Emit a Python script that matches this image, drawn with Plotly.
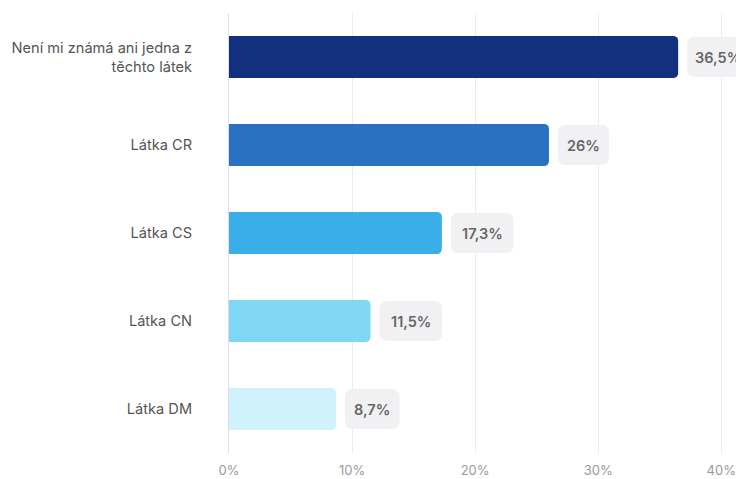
import plotly.graph_objects as go

# Survey answers, top to bottom
categories = [
    "Není mi známá ani jedna z<br>těchto látek",
    "Látka CR",
    "Látka CS",
    "Látka CN",
    "Látka DM",
]
values = [36.5, 26.0, 17.3, 11.5, 8.7]
value_labels = ["36,5%", "26%", "17,3%", "11,5%", "8,7%"]
bar_colors = ["#13307e", "#2b71c2", "#3aaee7", "#7fd7f3", "#cff2fb"]
tick_vals = [0, 10, 20, 30, 40]
tick_text = ["0%", "10%", "20%", "30%", "40%"]

positions = list(range(len(categories)))

fig = go.Figure(
    go.Bar(
        x=values,
        y=positions,
        orientation="h",
        marker=dict(color=bar_colors, line=dict(width=0)),
        width=0.48,
        hoverinfo="skip",
    )
)


def text_width(s):
    w = 0.0
    for ch in s:
        if ch.isdigit():
            w += 8.0
        elif ch == "%":
            w += 11.0
        else:
            w += 3.5
    return w


def rounded_rect(x0, x1, y0, y1, r):
    return (
        f"M {x0 + r},{y0} L {x1 - r},{y0} Q {x1},{y0} {x1},{y0 + r} "
        f"L {x1},{y1 - r} Q {x1},{y1} {x1 - r},{y1} "
        f"L {x0 + r},{y1} Q {x0},{y1} {x0},{y1 - r} "
        f"L {x0},{y0 + r} Q {x0},{y0} {x0 + r},{y0} Z"
    )


gap = 9
pad = 24
half_h = 20
shapes = []
annotations = []
for pos, val, lab in zip(positions, values, value_labels):
    w = text_width(lab) + pad
    shapes.append(
        dict(
            type="path",
            xref="x", yref="y",
            xsizemode="pixel", ysizemode="pixel",
            xanchor=val, yanchor=pos,
            path=rounded_rect(gap, gap + w, -half_h, half_h, 8),
            fillcolor="#f1f1f3",
            line=dict(width=0),
            layer="above",
        )
    )
    annotations.append(
        dict(
            x=val, y=pos, xref="x", yref="y",
            text=lab,
            showarrow=False,
            xanchor="center", yanchor="middle",
            xshift=gap + w / 2,
            font=dict(family="Inter", size=14.5, color="#666666", weight=600),
        )
    )

fig.update_layout(
    width=736,
    height=479,
    margin=dict(l=229, r=0, t=13, b=26),
    paper_bgcolor="white",
    plot_bgcolor="white",
    showlegend=False,
    barcornerradius=5,
    shapes=shapes,
    annotations=annotations,
    font=dict(family="Inter", color="#555555"),
    xaxis=dict(
        range=[0, 41.2],
        tickvals=tick_vals,
        ticktext=tick_text,
        showgrid=True,
        gridcolor="#ececf0",
        gridwidth=1,
        zeroline=False,
        showline=False,
        tickfont=dict(family="Inter", size=13, color="#9a9a9a"),
        ticks="",
        ticklabelstandoff=8,
        automargin=False,
    ),
    yaxis=dict(
        range=[4.5, -0.5],
        tickvals=positions,
        ticktext=categories,
        showgrid=False,
        zeroline=False,
        showline=True,
        linecolor="#dcdcf2",
        linewidth=1,
        ticks="",
        ticklabelstandoff=33,
        tickfont=dict(family="Inter", size=14.6, color="#555555"),
        automargin=False,
    ),
)

fig.write_html("out.html")
